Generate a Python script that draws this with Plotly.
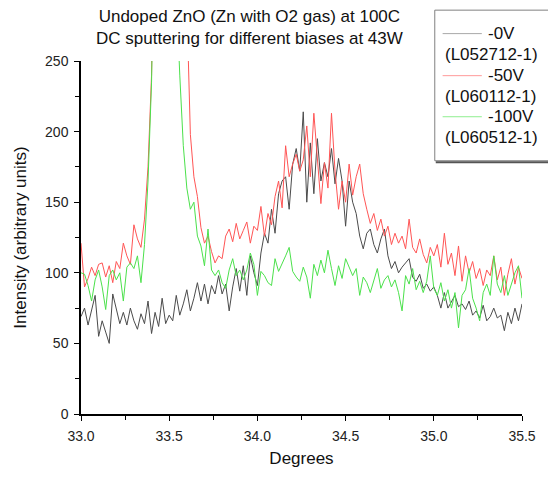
import plotly.graph_objects as go

# ---------------- data ----------------
degrees = [round(33.0 + 0.02 * i, 2) for i in range(126)]

bias_0V = [69, 75, 63, 74, 84, 55, 66, 58, 50, 85,
           74, 64, 72, 63, 75, 66, 60, 71, 64, 80,
           57, 72, 62, 82, 64, 70, 66, 84, 70, 78,
           88, 73, 82, 93, 80, 92, 78, 91, 85, 98,
           85, 92, 73, 90, 103, 87, 105, 84, 112, 100,
           91, 114, 128, 121, 145, 128, 156, 165, 168, 145,
           177, 188, 172, 214, 150, 192, 156, 195, 165, 178,
           168, 188, 163, 181, 165, 133, 165, 150, 142, 126,
           117, 128, 131, 120, 114, 124, 131, 112, 103, 108,
           100, 104, 107, 110, 97, 94, 99, 89, 92, 87,
           90, 84, 75, 86, 75, 80, 84, 76, 78, 74,
           80, 70, 73, 68, 77, 66, 69, 75, 68, 70,
           59, 72, 64, 75, 66, 78]

bias_50V = [121, 90, 96, 104, 98, 106, 107, 97, 105, 93,
            108, 103, 121, 112, 106, 134, 124, 118, 138, 175,
            240, 330, 450, 700, 900, 850, 700, 560, 450, 360,
            290, 198, 168, 154, 132, 121, 126, 115, 107, 112,
            110, 126, 131, 122, 135, 124, 130, 136, 121, 133,
            130, 147, 126, 142, 134, 154, 165, 146, 190, 168,
            177, 184, 172, 180, 204, 168, 213, 180, 149, 178,
            160, 213, 172, 145, 165, 150, 177, 155, 168, 177,
            156, 145, 135, 142, 130, 138, 126, 133, 120, 128,
            121, 126, 117, 138, 118, 114, 124, 113, 107, 118,
            112, 120, 104, 128, 106, 114, 98, 119, 94, 112,
            100, 108, 96, 103, 91, 102, 98, 112, 95, 104,
            84, 99, 110, 92, 104, 96]

bias_100V = [100, 99, 91, 80, 95, 102, 90, 74, 98, 102,
             95, 100, 80, 104, 107, 103, 112, 93, 120, 165,
             235, 330, 480, 650, 800, 700, 500, 300, 240, 190,
             160, 145, 150, 126, 119, 105, 131, 102, 98, 102,
             93, 89, 102, 110, 98, 102, 95, 102, 114, 106,
             84, 101, 98, 93, 91, 110, 101, 106, 112, 118,
             101, 97, 94, 104, 97, 82, 106, 98, 109, 100,
             116, 103, 91, 105, 96, 110, 104, 98, 103, 84,
             97, 93, 86, 95, 103, 89, 95, 98, 90, 95,
             86, 73, 98, 92, 103, 88, 94, 86, 94, 112,
             89, 84, 93, 80, 88, 75, 86, 61, 84, 88,
             103, 82, 75, 66, 86, 92, 84, 112, 92, 86,
             98, 84, 92, 100, 105, 82]

series_names = ["-0V", "-50V", "-100V"]
sample_ids = ["(L052712-1)", "(L060112-1)", "(L060512-1)"]
x_tickvals = [33.0, 33.5, 34.0, 34.5, 35.0, 35.5]
x_ticktext = ["33.0", "33.5", "34.0", "34.5", "35.0", "35.5"]
y_tickvals = [0, 50, 100, 150, 200, 250]
y_ticktext = ["0", "50", "100", "150", "200", "250"]

# ---------------- style ----------------
line_colors = ["rgb(75,75,75)", "rgb(255,85,85)", "rgb(75,225,75)"]
legend_colors = ["#a8a8a8", "#ff9a9a", "#8fef8f"]
FONT = "Liberation Sans, Arial, sans-serif"

W, H = 548, 477
L, R, T, B = 81, 17, 61, 55


def px(x):
    return (x - L) / (W - L - R)


def py(y):
    return (H - B - y) / (H - T - B)


fig = go.Figure()
for name, vals, col in zip(series_names, [bias_0V, bias_50V, bias_100V], line_colors):
    fig.add_trace(go.Scatter(x=degrees, y=vals, mode="lines", name=name,
                             line=dict(color=col, width=1), showlegend=False))

shapes = [
    dict(type="rect", xref="paper", yref="paper", x0=px(442), x1=px(570),
         y0=py(163), y1=py(9), line=dict(color="#808080", width=1), fillcolor="white", layer="above"),
    dict(type="line", xref="paper", yref="paper", x0=px(443), x1=px(570),
         y0=py(164.5), y1=py(164.5), line=dict(color="#555555", width=2)),
]
annotations = [
    dict(text="Undoped ZnO (Zn with O2 gas) at 100C<br>DC sputtering for different biases at 43W",
         xref="paper", yref="paper", x=px(253), y=py(27), xanchor="center", yanchor="middle",
         showarrow=False, align="center", font=dict(family=FONT, size=17, color="#111111")),
]
rows = [33, 76, 118]
for i, (nm, sid, lc) in enumerate(zip(series_names, sample_ids, legend_colors)):
    yc = rows[i]
    shapes.append(dict(type="line", xref="paper", yref="paper", x0=px(450), x1=px(490),
                       y0=py(yc), y1=py(yc), line=dict(color=lc, width=1), layer="above"))
    annotations.append(dict(text=nm, xref="paper", yref="paper", x=px(494), y=py(yc),
                            xanchor="left", yanchor="middle", showarrow=False,
                            font=dict(family=FONT, size=17, color="#111111")))
    annotations.append(dict(text=sid, xref="paper", yref="paper", x=px(450), y=py(yc + 21.5),
                            xanchor="left", yanchor="middle", showarrow=False,
                            font=dict(family=FONT, size=17, color="#111111")))

fig.update_layout(
    width=W, height=H,
    margin=dict(l=L, r=R, t=T, b=B, pad=0),
    paper_bgcolor="white", plot_bgcolor="white",
    font=dict(family=FONT, color="#111111"),
    shapes=shapes, annotations=annotations,
    xaxis=dict(range=[33.0, 35.5], tickvals=x_tickvals, ticktext=x_ticktext,
               ticks="outside", ticklen=5, tickwidth=1, tickcolor="black",
               showline=True, linecolor="black", linewidth=1.5,
               showgrid=False, zeroline=False, ticklabelstandoff=3,
               minor=dict(ticks="outside", ticklen=4, tickwidth=1, tickcolor="black",
                          dtick=0.25, showgrid=False),
               tickfont=dict(family=FONT, size=14, color="#222222"),
               title=dict(text="Degrees", font=dict(family=FONT, size=17, color="#111111"),
                          standoff=10)),
    yaxis=dict(range=[0, 250], tickvals=y_tickvals, ticktext=y_ticktext,
               ticks="outside", ticklen=5, tickwidth=1, tickcolor="black",
               showline=True, linecolor="black", linewidth=1.5,
               showgrid=False, zeroline=False, ticklabelstandoff=3,
               minor=dict(ticks="outside", ticklen=4, tickwidth=1, tickcolor="black",
                          dtick=25, showgrid=False),
               tickfont=dict(family=FONT, size=14, color="#222222"),
               title=dict(text="Intensity (arbitrary units)",
                          font=dict(family=FONT, size=17, color="#111111"), standoff=14)),
)

fig.write_html("out.html")
